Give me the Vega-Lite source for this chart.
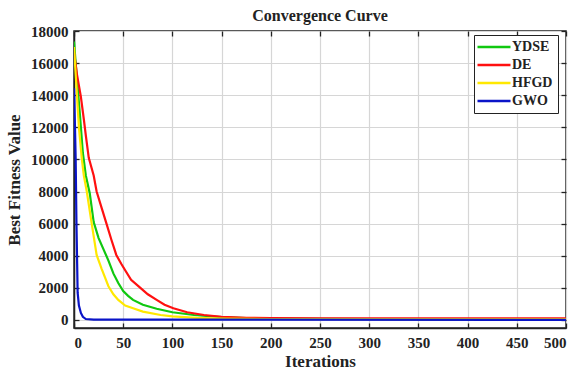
{
  "$schema": "https://vega.github.io/schema/vega-lite/v6.json",
  "autosize": {"type": "none"},
  "padding": {"left": 74, "top": 31, "right": 12, "bottom": 46},
  "width": 492,
  "height": 297,
  "background": "white",
  "title": {"text": "Convergence Curve", "font": "Liberation Serif", "fontSize": 16, "fontWeight": "bold", "color": "#222", "offset": 0, "anchor": "middle"},
  "config": {
    "view": {"stroke": "#222", "strokeWidth": 1.5},
    "axis": {"labelFont": "Liberation Serif", "labelFontWeight": "bold", "labelFontSize": 15, "labelColor": "#222", "titleFont": "Liberation Serif", "titleFontWeight": "bold", "titleFontSize": 17, "titleColor": "#222", "gridColor": "#d6d6d6", "gridWidth": 1.2, "domainColor": "#222", "domainWidth": 1.5, "tickColor": "#222", "tickWidth": 1.3}
  },
  "data": {"values": [
    {"it": 0, "v": 17340, "alg": "YDSE"}, {"it": 3, "v": 15000, "alg": "YDSE"}, {"it": 6, "v": 12800, "alg": "YDSE"}, {"it": 9, "v": 10400, "alg": "YDSE"}, {"it": 12, "v": 9000, "alg": "YDSE"}, {"it": 16, "v": 7900, "alg": "YDSE"}, {"it": 20, "v": 6100, "alg": "YDSE"}, {"it": 25, "v": 5100, "alg": "YDSE"}, {"it": 30, "v": 4400, "alg": "YDSE"}, {"it": 35, "v": 3700, "alg": "YDSE"}, {"it": 40, "v": 2900, "alg": "YDSE"}, {"it": 45, "v": 2300, "alg": "YDSE"}, {"it": 50, "v": 1800, "alg": "YDSE"}, {"it": 55, "v": 1500, "alg": "YDSE"}, {"it": 60, "v": 1250, "alg": "YDSE"}, {"it": 70, "v": 950, "alg": "YDSE"}, {"it": 84, "v": 700, "alg": "YDSE"}, {"it": 100, "v": 480, "alg": "YDSE"}, {"it": 122, "v": 310, "alg": "YDSE"}, {"it": 150, "v": 180, "alg": "YDSE"}, {"it": 175, "v": 120, "alg": "YDSE"}, {"it": 200, "v": 90, "alg": "YDSE"}, {"it": 250, "v": 70, "alg": "YDSE"}, {"it": 300, "v": 60, "alg": "YDSE"}, {"it": 400, "v": 55, "alg": "YDSE"}, {"it": 500, "v": 50, "alg": "YDSE"},
    {"it": 0, "v": 16700, "alg": "DE"}, {"it": 3, "v": 15300, "alg": "DE"}, {"it": 7, "v": 13900, "alg": "DE"}, {"it": 10, "v": 12500, "alg": "DE"}, {"it": 12, "v": 11500, "alg": "DE"}, {"it": 15, "v": 10100, "alg": "DE"}, {"it": 20, "v": 9000, "alg": "DE"}, {"it": 23, "v": 8000, "alg": "DE"}, {"it": 28, "v": 7000, "alg": "DE"}, {"it": 33, "v": 6000, "alg": "DE"}, {"it": 38, "v": 5000, "alg": "DE"}, {"it": 43, "v": 4050, "alg": "DE"}, {"it": 48, "v": 3500, "alg": "DE"}, {"it": 52, "v": 3100, "alg": "DE"}, {"it": 58, "v": 2500, "alg": "DE"}, {"it": 66, "v": 2080, "alg": "DE"}, {"it": 75, "v": 1600, "alg": "DE"}, {"it": 84, "v": 1250, "alg": "DE"}, {"it": 92, "v": 950, "alg": "DE"}, {"it": 101, "v": 730, "alg": "DE"}, {"it": 115, "v": 480, "alg": "DE"}, {"it": 132, "v": 310, "alg": "DE"}, {"it": 150, "v": 200, "alg": "DE"}, {"it": 175, "v": 140, "alg": "DE"}, {"it": 200, "v": 115, "alg": "DE"}, {"it": 250, "v": 105, "alg": "DE"}, {"it": 300, "v": 100, "alg": "DE"}, {"it": 500, "v": 100, "alg": "DE"},
    {"it": 0, "v": 17000, "alg": "HFGD"}, {"it": 3, "v": 14000, "alg": "HFGD"}, {"it": 5, "v": 12000, "alg": "HFGD"}, {"it": 8, "v": 10000, "alg": "HFGD"}, {"it": 10, "v": 9000, "alg": "HFGD"}, {"it": 13, "v": 8000, "alg": "HFGD"}, {"it": 18, "v": 6000, "alg": "HFGD"}, {"it": 23, "v": 4050, "alg": "HFGD"}, {"it": 28, "v": 3200, "alg": "HFGD"}, {"it": 35, "v": 2100, "alg": "HFGD"}, {"it": 40, "v": 1600, "alg": "HFGD"}, {"it": 45, "v": 1250, "alg": "HFGD"}, {"it": 52, "v": 900, "alg": "HFGD"}, {"it": 60, "v": 730, "alg": "HFGD"}, {"it": 70, "v": 520, "alg": "HFGD"}, {"it": 88, "v": 310, "alg": "HFGD"}, {"it": 100, "v": 220, "alg": "HFGD"}, {"it": 125, "v": 130, "alg": "HFGD"}, {"it": 150, "v": 90, "alg": "HFGD"}, {"it": 200, "v": 60, "alg": "HFGD"}, {"it": 500, "v": 40, "alg": "HFGD"},
    {"it": 0, "v": 14430, "alg": "GWO"}, {"it": 1, "v": 12000, "alg": "GWO"}, {"it": 1.7, "v": 10000, "alg": "GWO"}, {"it": 2.5, "v": 6000, "alg": "GWO"}, {"it": 3.2, "v": 3500, "alg": "GWO"}, {"it": 3.7, "v": 1700, "alg": "GWO"}, {"it": 5, "v": 900, "alg": "GWO"}, {"it": 7, "v": 436, "alg": "GWO"}, {"it": 9, "v": 200, "alg": "GWO"}, {"it": 12, "v": 60, "alg": "GWO"}, {"it": 20, "v": 20, "alg": "GWO"}, {"it": 500, "v": 10, "alg": "GWO"}
  ]},
  "layer": [
    {
      "mark": {"type": "line", "strokeWidth": 2.2, "clip": true},
      "encoding": {
        "x": {"field": "it", "type": "quantitative", "scale": {"domain": [0, 500], "nice": false, "zero": false},
          "axis": {"title": "Iterations", "format": "d", "labelFont": "Liberation Serif", "labelFontWeight": "bold", "labelFontSize": 15, "values": [0, 50, 100, 150, 200, 250, 300, 350, 400, 450, 500], "tickSize": -5, "labelPadding": 12, "titlePadding": 3}},
        "y": {"field": "v", "type": "quantitative", "scale": {"domain": [-500, 18000], "nice": false, "zero": false},
          "axis": {"title": "Best Fitness Value", "format": "d", "labelFont": "Liberation Serif", "labelFontWeight": "bold", "labelFontSize": 15, "values": [0, 2000, 4000, 6000, 8000, 10000, 12000, 14000, 16000, 18000], "tickSize": -5, "labelPadding": 11, "titlePadding": 7}},
        "color": {"field": "alg", "type": "nominal",
          "scale": {"domain": ["YDSE", "DE", "HFGD", "GWO"], "range": ["#10c810", "#ff1010", "#ffe800", "#0a14c8"]},
          "legend": {"title": null, "orient": "none", "legendX": 400, "legendY": 4, "symbolType": "M-3,0H3", "symbolSize": 121, "symbolStrokeWidth": 2.5, "symbolOffset": 8, "labelFont": "Liberation Serif", "labelFontWeight": "bold", "labelFontSize": 14, "labelColor": "#222", "strokeColor": "#222", "fillColor": "white", "padding": 5, "rowPadding": 4, "labelOffset": 11}},
        "order": {"field": "it", "type": "quantitative"}
      }
    },
    {
      "mark": {"type": "line", "opacity": 0},
      "encoding": {
        "x": {"field": "it", "type": "quantitative", "axis": {"orient": "top", "title": null, "labels": false, "grid": false, "domain": false, "values": [0, 50, 100, 150, 200, 250, 300, 350, 400, 450, 500], "tickSize": -5}},
        "y": {"field": "v", "type": "quantitative", "axis": {"orient": "right", "title": null, "labels": false, "grid": false, "domain": false, "values": [0, 2000, 4000, 6000, 8000, 10000, 12000, 14000, 16000, 18000], "tickSize": -5}},
        "detail": {"field": "alg"}
      }
    }
  ],
  "resolve": {"axis": {"x": "independent", "y": "independent"}}
}
